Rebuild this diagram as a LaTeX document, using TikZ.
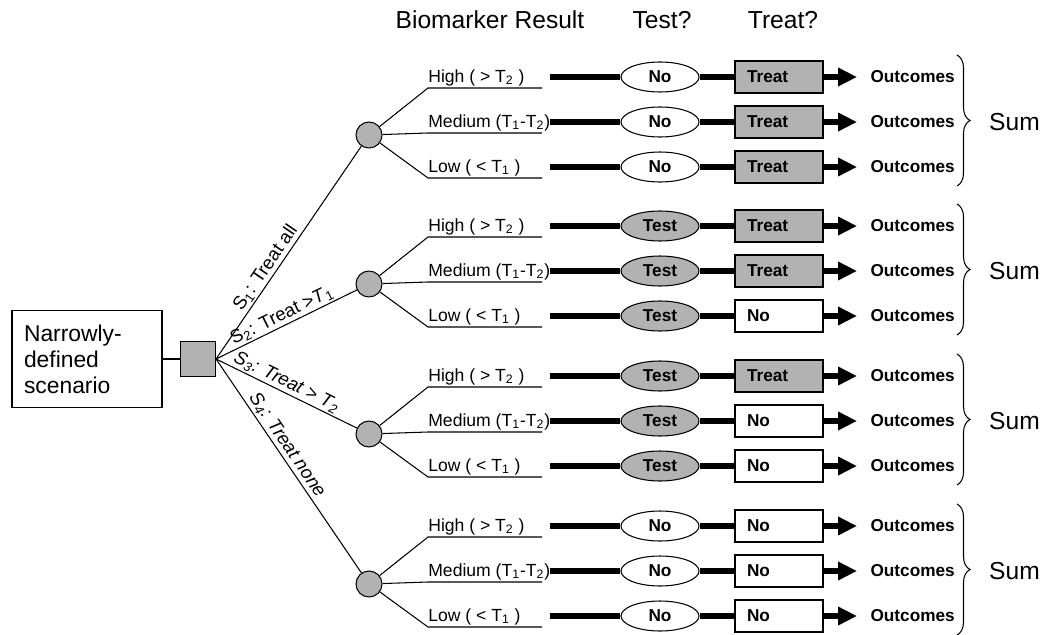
\documentclass[tikz,border=0pt]{standalone}
\usepackage{fontspec}
\setmainfont{Liberation Sans}
\usetikzlibrary{arrows.meta,shapes.geometric,decorations.pathreplacing}
\tikzset{
  chance/.style={circle,draw,fill=black!30,minimum size=0.52cm,inner sep=0pt,line width=0.6pt},
  decision/.style={rectangle,draw,fill=black!30,minimum size=0.7cm,inner sep=0pt,line width=0.6pt},
  scen/.style={rectangle,draw,line width=0.6pt,text width=2.52cm,inner xsep=0.24cm,minimum height=1.94cm,align=left,font=\fontsize{13}{14.8}\selectfont},
  branch/.style={line width=0.6pt},
  pipe/.style={line width=3.4pt},
  arr/.style={pipe,-{Triangle[length=10.8pt,width=10pt]}},
  testbox/.style={ellipse,draw,line width=0.6pt,minimum width=1.56cm,minimum height=0.6cm,inner sep=0pt,font=\bfseries\fontsize{9.8}{12}\selectfont},
  treatbox/.style={rectangle,draw,line width=0.6pt,text width=1.28cm,inner xsep=0.24cm,inner ysep=0pt,minimum height=0.64cm,align=left,font=\bfseries\fontsize{9.8}{12}\selectfont},
  outc/.style={font=\bfseries\fontsize{9.8}{12}\selectfont,inner xsep=7.5pt,inner ysep=0pt},
  res/.style={font=\fontsize{10}{12}\selectfont,inner xsep=0pt,inner ysep=1pt},
  slbl/.style={font=\fontsize{10.6}{12}\selectfont,sloped,above,inner sep=1pt},
  hdr/.style={font=\fontsize{14}{17}\selectfont},
}
\begin{document}
\begin{tikzpicture}[x=0.02cm,y=-0.02cm]
  \useasboundingbox (0,0) rectangle (1044,635);
  % column heads
  \node[hdr] (hbio) at (490,20) {Biomarker Result};
  \node[hdr] (htest) at (662,20) {Test?};
  \node[hdr] (htreat) at (783,20) {Treat?};
  % root of the tree
  \node[scen] (scen) at (87,359) {Narrowly-\\defined\\scenario};
  \node[decision] (dec) at (198,359) {};
  \draw[branch] (scen) -- (dec);
  \foreach \g/\c/\tst/\ntr in {1/122/0/3,2/271/1/2,3/421/1/1,4/571/0/0}{
    \node[chance] (c-\g) at (369,\c+13) {};
    \edef\tfill{\ifnum\tst=1 black!30\else white\fi}
    \foreach \i/\lab in {1/{High ( > T\textsubscript{2} )},2/{Medium (T\textsubscript{1}-T\textsubscript{2})},3/{Low ( < T\textsubscript{1} )}}{
      \pgfmathsetmacro{\y}{\c+(\i-2)*45}
      \ifnum\i>\ntr \def\trt{0}\else \def\trt{1}\fi
      \edef\dfill{\ifnum\trt=1 black!30\else white\fi}
      \coordinate (k-\g-\i) at (428,\y+11);
      \coordinate (e-\g-\i) at (542,\y+11);
      \coordinate (s-\g-\i) at (550,\y);
      \node[res,anchor=south west] (lab-\g-\i) at (k-\g-\i) {\lab};
      \node[testbox,fill=\tfill] (t-\g-\i) at (660,\y) {\ifnum\tst=1 Test\else No\fi};
      \node[treatbox,fill=\dfill] (d-\g-\i) at (779,\y) {\ifnum\trt=1 Treat\else No\fi};
      \node[outc,anchor=west] (o-\g-\i) at (857,\y) {Outcomes};
      \draw[branch] (c-\g) -- (k-\g-\i) -- (e-\g-\i);
      \draw[pipe] (s-\g-\i) -- (t-\g-\i) -- (d-\g-\i);
      \draw[arr] (d-\g-\i) -- (o-\g-\i);
    }
    \coordinate (bt-\g) at (957,\c-67);
    \coordinate (bb-\g) at (957,\c+64);
    \draw[branch,decorate,decoration={brace,amplitude=0.26cm}] (bt-\g) -- (bb-\g);
    \node[hdr,anchor=west] (sum-\g) at (983,\c) {Sum};
  }
  % strategies
  \draw[branch] (dec.east) -- node[slbl,pos=0.4] {S\textsubscript{1}: Treat all} (c-1);
  \draw[branch] (dec.east) -- node[slbl,pos=0.5] {S\textsubscript{2}: Treat >\textit{T}\textsubscript{1}} (c-2);
  \draw[branch] (dec.east) -- node[slbl,pos=0.47] {\textit{S\textsubscript{3}: Treat > T\textsubscript{2}}} (c-3);
  \draw[branch] (dec.east) -- node[slbl,pos=0.43] {\textit{S\textsubscript{4}: Treat none}} (c-4);
\end{tikzpicture}
\end{document}
